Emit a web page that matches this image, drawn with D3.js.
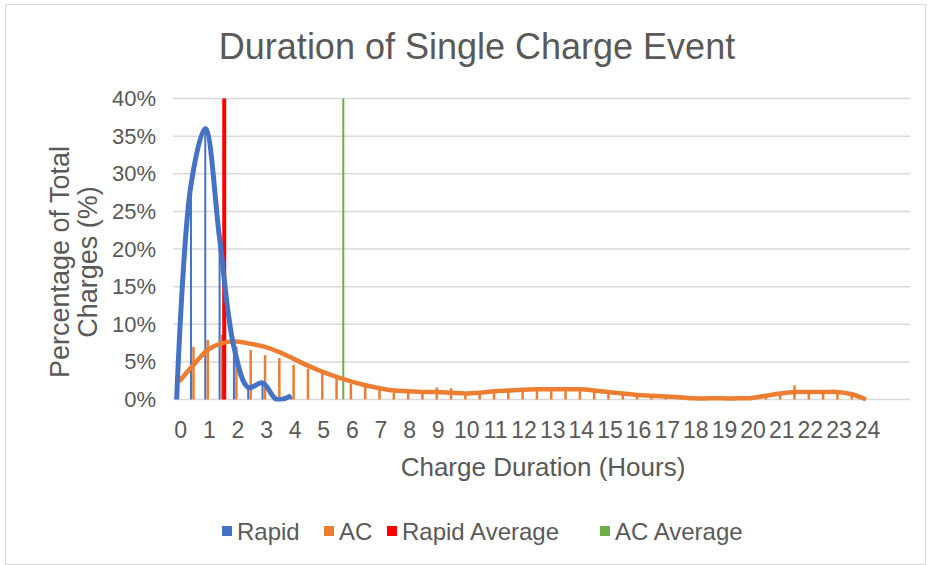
<!DOCTYPE html>
<html>
<head>
<meta charset="utf-8">
<script src="https://cdn.jsdelivr.net/npm/d3@7"></script>
<style>
    body { margin: 0; background: #fff; }
    text { font-family: "Liberation Sans", Arial, sans-serif; fill: #595959; }
</style>
</head>
<body>
<div id="chart"></div>
<script>
// half-hour bins, 0..24 h
let hours = [0, 0.5, 1, 1.5, 2, 2.5, 3, 3.5, 4, 4.5, 5, 5.5, 6, 6.5, 7, 7.5, 8, 8.5, 9, 9.5,
    10, 10.5, 11, 11.5, 12, 12.5, 13, 13.5, 14, 14.5, 15, 15.5, 16, 16.5, 17, 17.5, 18, 18.5, 19, 19.5,
    20, 20.5, 21, 21.5, 22, 22.5, 23, 23.5, 24];

// Rapid (% of charges), hours 0..4
let rapid = [0, 28.5, 36.0, 21.4, 7.0, 1.6, 2.2, 0.0, 0.5];

// AC columns (% of charges)
let acBars = [0, 7.0, 7.9, 8.6, 7.0, 6.6, 5.9, 5.5, 4.6, 4.1, 3.5, 3.0, 2.1, 1.7, 1.5, 0.9, 1.0, 1.0, 1.6, 1.5,
    0.8, 0.9, 1.0, 1.1, 1.3, 1.2, 1.3, 1.3, 1.3, 1.1, 1.0, 0.8, 0.6, 0.5, 0.4, 0.3, 0.2, 0.1, 0.1, 0.1,
    0.2, 0.5, 0.8, 1.9, 1.0, 1.0, 0.9, 0.7, 0.0];

// AC smoothed line
let acLine = [2.4, 4.6, 6.6, 7.5, 7.7, 7.4, 7.0, 6.3, 5.4, 4.5, 3.7, 3.0, 2.4, 1.9, 1.5, 1.2, 1.1, 1.0, 1.0, 0.9,
    0.8, 0.9, 1.1, 1.2, 1.3, 1.35, 1.35, 1.35, 1.35, 1.2, 1.0, 0.8, 0.6, 0.5, 0.4, 0.3, 0.15, 0.15, 0.15, 0.15,
    0.2, 0.5, 0.8, 1.0, 1.0, 1.0, 1.0, 0.7, 0.0];

let rapidAverage = 1.54;
let acAverage = 5.7;

let xTicks = d3.range(0, 25);
let yTicks = [0, 5, 10, 15, 20, 25, 30, 35, 40];

let seriesNames = ["Rapid", "AC", "Rapid Average", "AC Average"];
let seriesColors = ["#4472c4", "#ed7d31", "#ff0000", "#70ad47"];

function DurationChart(options = {}) {
    let {containerId, width, height} = options;
    let plot = {left: 173, right: 910, top: 98.5, bottom: 399.5};

    let svg = d3.select('#' + containerId)
        .append("svg")
        .attr("width", width)
        .attr("height", height);

    // chart frame
    svg.append("rect")
        .attr("x", 5.5).attr("y", 4.5)
        .attr("width", 920).attr("height", 560)
        .attr("fill", "#fff")
        .attr("stroke", "#d9d9d9")
        .attr("stroke-width", 1);

    let x = d3.scaleLinear()
        .domain([-0.25, 25.5])
        .range([plot.left, plot.right]);
    let y = d3.scaleLinear()
        .domain([0, 40])
        .range([plot.bottom, plot.top]);

    // gridlines
    svg.append("g")
        .selectAll("line")
        .data(yTicks)
        .join("line")
        .attr("x1", plot.left).attr("x2", plot.right)
        .attr("y1", d => y(d)).attr("y2", d => y(d))
        .attr("stroke", "#d9d9d9")
        .attr("stroke-width", 1.5);

    let yAxis = svg.append("g")
        .attr("transform", "translate(" + plot.left + ",0)")
        .call(d3.axisLeft(y).tickValues(yTicks).tickSize(0).tickPadding(17)
            .tickFormat(d => d + "%"));
    yAxis.select(".domain").remove();
    yAxis.selectAll("text").attr("font-size", 22).attr("fill", "#595959")
        .attr("font-family", "Liberation Sans, Arial, sans-serif");

    let xAxis = svg.append("g")
        .attr("transform", "translate(0," + plot.bottom + ")")
        .call(d3.axisBottom(x).tickValues(xTicks).tickSize(0).tickPadding(22)
            .tickFormat(d3.format("d")));
    xAxis.select(".domain").remove();
    xAxis.selectAll("text").attr("font-size", 23).attr("fill", "#595959")
        .attr("font-family", "Liberation Sans, Arial, sans-serif");

    // columns
    let rapidOffset = -3.5;
    let acOffset = -1;
    let rapidData = rapid.map((v, i) => ({h: hours[i], v: v}));
    let acData = acBars.map((v, i) => ({h: hours[i], v: v}));

    svg.append("g")
        .selectAll("rect")
        .data(rapidData.filter(d => d.v > 0))
        .join("rect")
        .attr("x", d => x(d.h) + rapidOffset - 1)
        .attr("width", 2)
        .attr("y", d => y(d.v))
        .attr("height", d => y(0) - y(d.v))
        .attr("fill", seriesColors[0]);

    svg.append("g")
        .selectAll("rect")
        .data(acData.filter(d => d.v > 0))
        .join("rect")
        .attr("x", d => x(d.h) + acOffset - 1.25)
        .attr("width", 2.5)
        .attr("y", d => y(d.v))
        .attr("height", d => y(0) - y(d.v))
        .attr("fill", seriesColors[1]);

    // averages
    svg.append("line")
        .attr("x1", x(rapidAverage)).attr("x2", x(rapidAverage))
        .attr("y1", y(0)).attr("y2", y(40))
        .attr("stroke", seriesColors[2])
        .attr("stroke-width", 4);
    svg.append("line")
        .attr("x1", x(acAverage)).attr("x2", x(acAverage))
        .attr("y1", y(0)).attr("y2", y(40))
        .attr("stroke", seriesColors[3])
        .attr("stroke-width", 2);

    svg.append("defs").append("clipPath")
        .attr("id", "clip")
        .append("rect")
        .attr("x", plot.left)
        .attr("y", plot.top - 10)
        .attr("width", plot.right - plot.left)
        .attr("height", plot.bottom - plot.top + 12);

    let lines = svg.append("g").attr("clip-path", "url(#clip)");

    lines.append("path")
        .datum(acLine.map((v, i) => ({h: hours[i], v: v})))
        .attr("fill", "none")
        .attr("stroke", seriesColors[1])
        .attr("stroke-width", 4.5)
        .attr("stroke-linejoin", "round")
        .attr("d", d3.line()
            .curve(d3.curveCatmullRom.alpha(0.5))
            .x(d => x(d.h) + acOffset)
            .y(d => y(d.v)));

    lines.append("path")
        .datum(rapidData)
        .attr("fill", "none")
        .attr("stroke", seriesColors[0])
        .attr("stroke-width", 5)
        .attr("stroke-linejoin", "round")
        .attr("d", d3.line()
            .curve(d3.curveCatmullRom.alpha(0.5))
            .x(d => x(d.h) + rapidOffset)
            .y(d => y(d.v)));

    // titles
    svg.append("text")
        .attr("x", 477).attr("y", 59)
        .attr("text-anchor", "middle")
        .attr("font-size", 36)
        .text("Duration of Single Charge Event");

    svg.append("text")
        .attr("x", 543).attr("y", 476)
        .attr("text-anchor", "middle")
        .attr("font-size", 26)
        .text("Charge Duration (Hours)");

    let yTitle = svg.append("text")
        .attr("transform", "translate(69,262) rotate(-90)")
        .attr("text-anchor", "middle")
        .attr("font-size", 27);
    yTitle.append("tspan").attr("x", 0).attr("dy", 0).text("Percentage of Total");
    yTitle.append("tspan").attr("x", 0).attr("dy", 28).text("Charges (%)");

    // legend
    let legendX = [222, 324, 387, 600];
    let legend = svg.append("g")
        .selectAll("g")
        .data(seriesNames)
        .join("g")
        .attr("transform", (d, i) => "translate(" + legendX[i] + ",531)");
    legend.append("rect")
        .attr("x", 0).attr("y", -5)
        .attr("width", 10).attr("height", 10)
        .attr("fill", (d, i) => seriesColors[i]);
    legend.append("text")
        .attr("x", 15).attr("y", 8.5)
        .attr("font-size", 24)
        .text(d => d);
}

DurationChart({containerId: "chart", width: 930, height: 565});
</script>
</body>
</html>
